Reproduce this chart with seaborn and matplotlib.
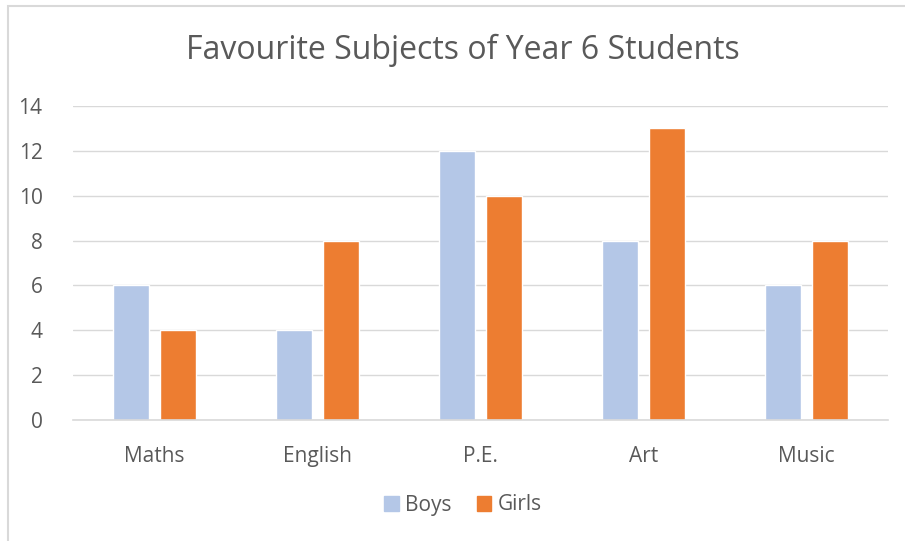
import pandas as pd
import matplotlib.pyplot as plt
import seaborn as sns
from matplotlib.patches import Rectangle

subjects = ['Maths', 'English', 'P.E.', 'Art', 'Music']
boys = [6, 4, 12, 8, 6]
girls = [4, 8, 10, 13, 8]
y_ticks = [0, 2, 4, 6, 8, 10, 12, 14]

df = pd.DataFrame({
    'Subject': subjects * 2,
    'Count': boys + girls,
    'Group': ['Boys'] * len(subjects) + ['Girls'] * len(subjects),
})

sns.set_theme(style='white')
plt.rcParams['font.family'] = ['Open Sans', 'DejaVu Sans']
text_color = '#595959'
grid_color = '#D9D9D9'

fig = plt.figure(figsize=(9.05, 5.41), dpi=100)
ax = fig.add_axes([73 / 905, 1 - 420 / 541, 815 / 905, 314 / 541])

sns.barplot(data=df, x='Subject', y='Count', hue='Group',
            palette={'Boys': '#B4C7E7', 'Girls': '#ED7D31'},
            width=0.58, gap=0.24, ax=ax, legend=False, saturation=1)

ax.set_ylim(0, 14)
ax.set_xlim(-0.5, len(subjects) - 0.5)
ax.set_yticks(y_ticks)
ax.yaxis.grid(True, color=grid_color, linewidth=1)
ax.set_axisbelow(True)
for side in ['top', 'right', 'left']:
    ax.spines[side].set_visible(False)
ax.spines['bottom'].set_color(grid_color)
ax.spines['bottom'].set_linewidth(1.2)
ax.tick_params(axis='both', length=0, labelsize=15, colors=text_color)
ax.tick_params(axis='y', pad=22)
ax.tick_params(axis='x', pad=19)
ax.set_xlabel('')
ax.set_ylabel('')

fig.text(463 / 905, 1 - 50 / 541, 'Favourite Subjects of Year 6 Students',
         ha='center', va='center', fontsize=23, color=text_color)

handles = [Rectangle((0, 0), 1, 1, color='#B4C7E7'),
           Rectangle((0, 0), 1, 1, color='#ED7D31')]
fig.legend(handles, ['Boys', 'Girls'], loc='center', bbox_to_anchor=(463 / 905, 1 - 505 / 541),
           ncol=2, frameon=False, fontsize=15, handlelength=0.7, handleheight=0.7,
           handletextpad=0.3, columnspacing=1.2, labelcolor=text_color)

# chart frame
fig.patches.append(Rectangle((8 / 905, -0.01), 1.0, 1 - 6 / 541 + 0.01, transform=fig.transFigure,
                             fill=False, edgecolor=grid_color, linewidth=1.5))

fig.savefig('out.png', dpi=100)
